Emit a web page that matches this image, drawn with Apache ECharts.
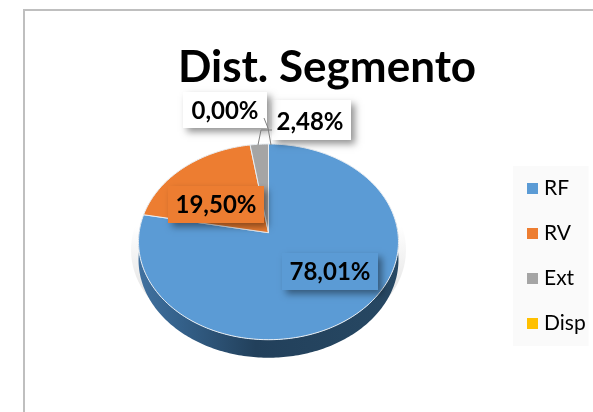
<!DOCTYPE html>
<html><head><meta charset="utf-8">
<style>html,body{margin:0;padding:0;background:#fff}#c{width:593px;height:412px}</style>
<script src="https://cdn.jsdelivr.net/npm/echarts@6/dist/echarts.min.js"></script>
</head><body><div id="c"></div>
<script>
const categories = ['RF', 'RV', 'Ext', 'Disp'];
const shares = [78.01, 19.50, 2.48, 0.00];
const colors = ['#5b9bd5', '#ed7d31', '#a5a5a5', '#ffc000'];
const titleText = 'Dist. Segmento';

// label boxes (layout only)
const labelBoxes = [
  {x:282,y:253,w:96,h:37,fill:'#5b9bd5'},
  {x:168,y:186,w:96,h:37,fill:'#ed7d31'},
  {x:272,y:100,w:79,h:40,fill:'#ffffff',tx:310,ty:122},
  {x:183,y:92,w:84,h:36,fill:'#ffffff',tx:225,ty:111}
];
const leaders = [null,null,[[272,130],[261,130],[258,145]],[[264,118],[268,128],[271,145]]];

const CX = 268.5, CY = 232.7, R = 129.4, K = 0.0935, A = 97, DEPTH = 18;
function pt(deg){
  const t = deg*Math.PI/180, u = Math.sin(t), v = Math.cos(t), d = 1+K*v;
  return [CX+R*u/d, CY-A*v/d];
}
function fmt(v){ return v.toFixed(2).replace('.',',')+'%'; }
const total = shares.reduce((a,b)=>a+b,0);

function makeRender(i){
  return function(params, api){
    const val = api.value(0);
    const before = shares.slice(0,i).reduce((a,b)=>a+b,0);
    const a0 = before/total*360, a1 = (before+val)/total*360;
    const kids = [];
    if(i===0){
      const g=[]; for(let d=0;d<360;d+=3){const p=pt(d);g.push([CX+(p[0]-CX)*1.058,p[1]+8]);}
      kids.push({type:'polygon',z2:1,shape:{points:g},style:{fill:{type:'linear',x:0,y:0,x2:0,y2:1,colorStops:[
        {offset:0,color:'rgba(205,205,205,0)'},{offset:0.38,color:'rgba(205,205,205,0)'},
        {offset:0.72,color:'rgba(210,210,210,0.55)'},{offset:1,color:'rgba(225,225,225,0.2)'}]}}});
    }
    // side wall, from the part of the slice on the front half
    const front=[]; for(let d=a0;d<=a1;d+=1){ if(d>=83&&d<=277) front.push(pt(d)); }
    if(front.length>1){
      const wall=front.concat(front.slice().reverse().map(p=>[p[0],p[1]+DEPTH]));
      kids.push({type:'polygon',z2:2,shape:{points:wall},style:{fill:{type:'linear',x:1,y:0,x2:0,y2:0,colorStops:[
        {offset:0,color:'#274863'},{offset:0.55,color:'#22405b'},{offset:0.85,color:'#35628c'},{offset:1,color:'#41719f'}]}}});
    }
    // top face
    if(val>0){
      const pts=[[CX,CY]]; for(let d=a0;d<a1;d+=1)pts.push(pt(d)); pts.push(pt(a1));
      kids.push({type:'polygon',z2:3,shape:{points:pts},style:{fill:colors[i],stroke:'#e9eef3',lineWidth:1,lineJoin:'round'}});
    }
    // label
    const b=labelBoxes[i];
    const z=10+(i===3?5:i);
    kids.push({type:'rect',z2:z,shape:{x:b.x,y:b.y,width:b.w,height:b.h},style:{fill:b.fill,shadowBlur:7,shadowOffsetX:4,shadowOffsetY:4,shadowColor:'rgba(0,0,0,0.42)'}});
    kids.push({type:'text',z2:z+1,style:{x:b.tx||b.x+b.w/2,y:b.ty||b.y+b.h/2+0.5,text:fmt(val),fill:'#000',align:'center',verticalAlign:'middle',font:'bold 24px Lato'}});
    if(leaders[i]) kids.push({type:'polyline',z2:20,shape:{points:leaders[i]},style:{fill:'none',stroke:'#7f7f7f',lineWidth:1}});
    return {type:'group',children:kids};
  };
}

const chart = echarts.init(document.getElementById('c'),null,{renderer:'canvas'});
chart.setOption({
  animation:false,
  backgroundColor:'#ffffff',
  title:{text:titleText,left:322,top:41,textAlign:'center',textStyle:{fontFamily:'Lato',fontWeight:'bold',fontSize:44,color:'#000'}},
  legend:{
    data:categories,orient:'vertical',left:513,top:166,icon:'rect',itemWidth:11,itemHeight:11,itemGap:24,
    padding:[12,3,12,14],backgroundColor:'#fafafa',
    textStyle:{fontFamily:'Lato',fontSize:21,color:'#000',padding:[0,0,0,1]},selectedMode:false
  },
  graphic:[
    {type:'polyline',shape:{points:[[24,412],[24,10],[593,10]]},style:{fill:'none',stroke:'#bfbfbf',lineWidth:2}}
  ],
  series:categories.map((n,i)=>({
    type:'custom',name:n,coordinateSystem:'none',silent:true,clip:false,
    itemStyle:{color:colors[i]},data:[[shares[i]]],renderItem:makeRender(i)
  }))
});
</script></body></html>
